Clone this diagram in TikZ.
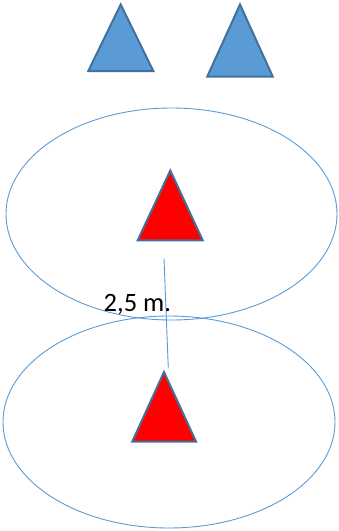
\documentclass[tikz,border=0pt]{standalone}
\usepackage{fontspec}
\setmainfont{Carlito}
\definecolor{triblue}{HTML}{5B9BD5}
\definecolor{edgeblue}{HTML}{41719C}
\definecolor{ringblue}{HTML}{5B9BD5}
\tikzset{
  bluetri/.style={fill=triblue,draw=edgeblue,line width=2pt,line join=miter},
  redtri/.style={fill=red,draw=edgeblue,line width=2pt,line join=miter},
  ring/.style={draw=ringblue,line width=0.9pt},
  gap/.style={draw=ringblue,line width=0.9pt}
}
\begin{document}
\begin{tikzpicture}[x=1pt,y=-1pt]
\useasboundingbox (0,0) rectangle (339,531);
% blue triangles
\draw[bluetri] (120.7,4.5) -- (153.3,71) -- (88.3,71) -- cycle;
\draw[bluetri] (240,4.5) -- (272.7,76.5) -- (207.3,76.5) -- cycle;
% circles
\draw[ring] (171.5,214) ellipse [x radius=165.5, y radius=106];
\draw[ring] (169,422) ellipse [x radius=166, y radius=106];
% red triangles
\draw[redtri] (170.3,170.5) -- (202.7,240.3) -- (137.7,240.3) -- cycle;
\draw[redtri] (164,372) -- (196,441.5) -- (132.3,441.5) -- cycle;
% distance line
\coordinate (top) at (164,258.5);
\coordinate (bot) at (168.3,368.3);
\draw[gap] (top) -- (bot);
\node[anchor=base west,inner sep=0pt,font=\fontsize{26.5}{30}\selectfont] (lbl) at (103.5,311.5) {2,5 m.};
\end{tikzpicture}
\end{document}
